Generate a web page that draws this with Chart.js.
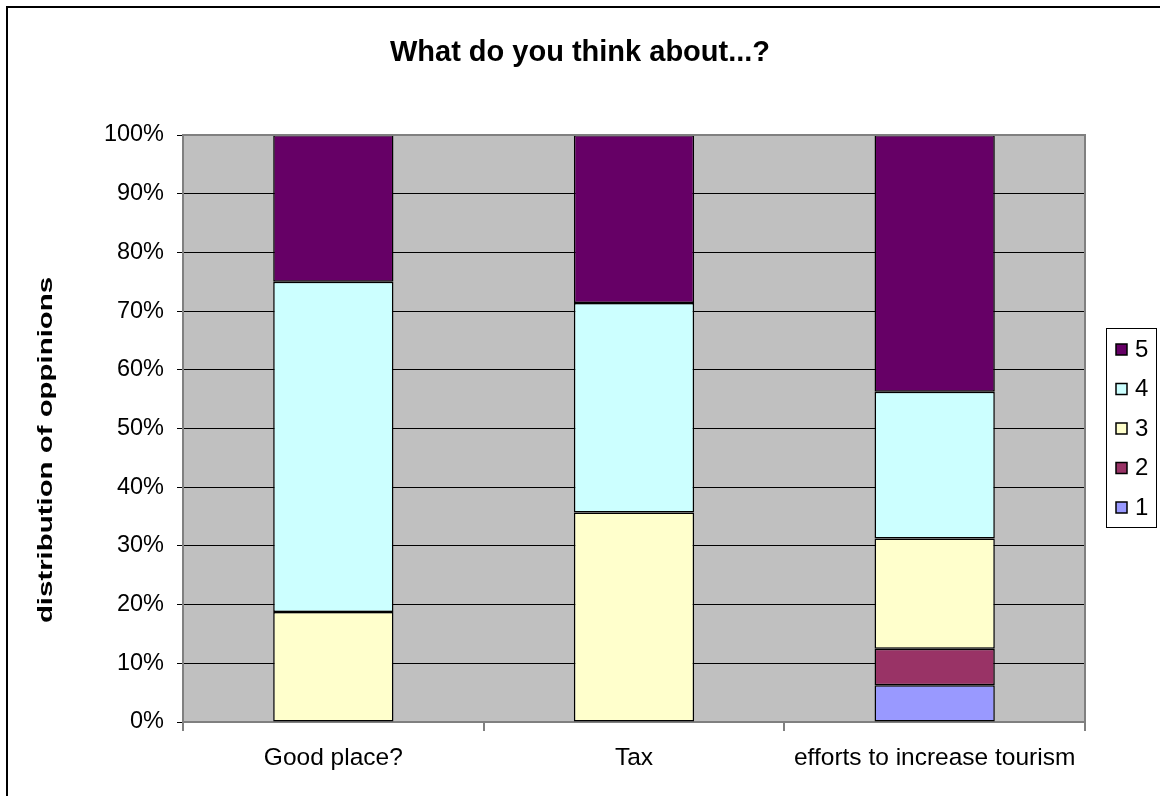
<!DOCTYPE html>
<html>
<head>
<meta charset="utf-8">
<script src="https://cdn.jsdelivr.net/npm/chart.js@4.4.1/dist/chart.umd.min.js"></script>
<style>
  html, body { margin: 0; padding: 0; background: #fff; }
  #wrap { width: 1160px; height: 796px; }
</style>
</head>
<body>
<div id="wrap"><canvas id="opinionChart" width="1160" height="796"></canvas></div>
<script>
// categories and share of answers (%) per score
const categories = ["Good place?", "Tax", "efforts to increase tourism"];
const score1 = [0, 0, 6.25];
const score2 = [0, 0, 6.25];
const score3 = [18.75, 35.7, 18.75];
const score4 = [56.25, 35.7, 25];
const score5 = [25, 28.6, 43.75];
const yTicks = [0, 10, 20, 30, 40, 50, 60, 70, 80, 90, 100];

const chartTitle = "What do you think about...?";
const yTitle = "distribution of oppinions";

const FONT = "'Liberation Sans', Arial, sans-serif";

// plot background, plot frame, outer border and the two titles
const frame = {
    id: "frame",
    beforeDraw(chart) {
        const c = chart.ctx, a = chart.chartArea;
        c.save();
        c.fillStyle = "#fff";
        c.fillRect(0, 0, chart.width, chart.height);
        c.fillStyle = "#C0C0C0";
        c.fillRect(a.left, a.top, a.right - a.left, a.bottom - a.top);
        c.strokeStyle = "#000";
        c.lineWidth = 2;
        c.strokeRect(7, 7, 1300, 1000);

        c.fillStyle = "#000";
        c.textAlign = "center";
        c.textBaseline = "middle";
        c.font = "bold 29px " + FONT;
        c.fillText(chartTitle, 580, 53);

        // Excel draws the rotated axis title somewhat stretched
        c.translate(46, 450);
        c.rotate(-Math.PI / 2);
        c.scale(1.4, 1);
        c.font = "bold 21px " + FONT;
        c.fillText(yTitle, 0, 0);
        c.restore();
    },
    afterDatasetsDraw(chart) {
        const c = chart.ctx, a = chart.chartArea;
        c.save();
        c.strokeStyle = "#808080";
        c.lineWidth = 2;
        c.beginPath();
        c.moveTo(a.left, a.top);
        c.lineTo(a.right, a.top);
        c.lineTo(a.right, a.bottom);
        c.stroke();
        c.restore();
    }
};

// legend box on the right, highest score on top
const sideLegend = {
    id: "sideLegend",
    afterDraw(chart) {
        const c = chart.ctx;
        const sets = chart.data.datasets.slice().reverse();
        c.save();
        c.strokeStyle = "#000";
        c.lineWidth = 1;
        c.strokeRect(1106.5, 328.5, 50, 199);
        c.font = "24px " + FONT;
        c.textBaseline = "middle";
        sets.forEach((ds, i) => {
            const y = 349 + i * 39.5;
            c.fillStyle = ds.backgroundColor;
            c.fillRect(1116, y - 5, 11, 11);
            c.strokeStyle = "#000";
            c.lineWidth = 1.5;
            c.strokeRect(1116, y - 5, 11, 11);
            c.fillStyle = "#000";
            c.fillText(ds.label, 1135, y + 1);
        });
        c.restore();
    }
};

function makeSet(label, data, color) {
    return {
        label: label,
        data: data,
        backgroundColor: color,
        borderColor: "#000",
        borderWidth: 1.5,
        borderSkipped: false,
        barPercentage: 0.4,
        categoryPercentage: 1.0
    };
}

new Chart(document.getElementById("opinionChart"), {
    type: "bar",
    data: {
        labels: categories,
        datasets: [
            makeSet("1", score1, "#9999FF"),
            makeSet("2", score2, "#993366"),
            makeSet("3", score3, "#FFFFCC"),
            makeSet("4", score4, "#CCFFFF"),
            makeSet("5", score5, "#660066")
        ]
    },
    options: {
        responsive: false,
        animation: false,
        layout: { padding: { left: 0, right: 75, top: 135, bottom: 0 } },
        plugins: {
            legend: { display: false },
            tooltip: { enabled: false },
            title: { display: false }
        },
        scales: {
            x: {
                stacked: true,
                grid: { drawOnChartArea: false, drawTicks: true, tickLength: 9, offset: true, color: "#808080", lineWidth: 2 },
                border: { color: "#808080", width: 2 },
                ticks: { color: "#000", font: { family: FONT, size: 24.5 }, padding: 13, maxRotation: 0 },
                afterFit(scale) { scale.height = 74; }
            },
            y: {
                stacked: true,
                min: 0,
                max: 100,
                afterBuildTicks(scale) { scale.ticks = yTicks.map(v => ({ value: v })); },
                grid: { color: "#000", lineWidth: 1, tickLength: 6 },
                border: { color: "#808080", width: 2 },
                ticks: {
                    color: "#000",
                    font: { family: FONT, size: 23.5 },
                    padding: 13,
                    callback: v => v + "%"
                },
                afterFit(scale) { scale.width = 183; }
            }
        }
    },
    plugins: [frame, sideLegend]
});
</script>
</body>
</html>
